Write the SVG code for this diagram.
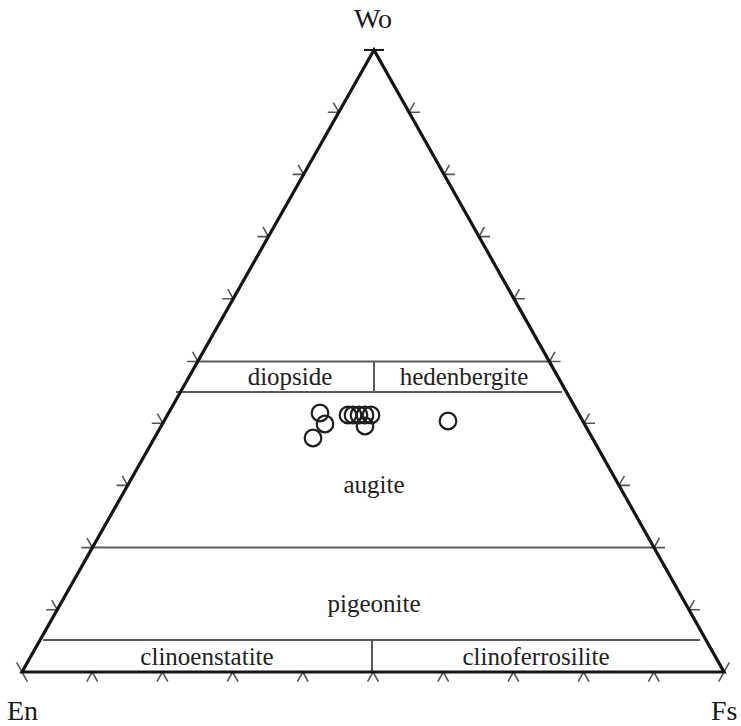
<svg xmlns="http://www.w3.org/2000/svg" xmlns:xlink="http://www.w3.org/1999/xlink" width="741" height="726" viewBox="0 0 741 726">
<style>
.edge{fill:none;stroke:#151515;stroke-width:3.2;stroke-linejoin:miter}
.field{fill:none;stroke:#5a5a5a;stroke-width:2}
.tick{fill:none;stroke:#555;stroke-width:1.6}
.lbl{font-family:"Liberation Serif","Times New Roman",serif;font-size:25px;fill:#222;text-anchor:middle}
.apex{font-family:"Liberation Serif","Times New Roman",serif;font-size:28px;fill:#1a1a1a}
.pt{fill:none;stroke:#1e1e1e;stroke-width:2.2}
</style>
<defs>
<path id="tl" d="M-11,0 L0,0 L-5.4,-9.6"/>
<path id="tr" d="M11,0 L0,0 L5.4,-9.6"/>
<path id="tb" d="M-5.4,9.6 L0,0 L5.4,9.6"/>
</defs>
<rect width="741" height="726" fill="#fff"/>
<g id="fields">
<line class="field" x1="198" y1="361.5" x2="549.5" y2="361.5"/>
<line class="field" x1="176" y1="392" x2="562" y2="392"/>
<line class="field" x1="374" y1="361.5" x2="374" y2="392"/>
<line class="field" x1="92.4" y1="547.6" x2="654" y2="547.6"/>
<line class="field" x1="43" y1="640" x2="700" y2="640"/>
<line class="field" x1="372" y1="640" x2="372" y2="672"/>
</g>
<g id="ticks" class="tick">
<use xlink:href="#tl" x="57.2" y="609.8"/>
<use xlink:href="#tl" x="92.4" y="547.6"/>
<use xlink:href="#tl" x="127.6" y="485.4"/>
<use xlink:href="#tl" x="162.8" y="423.2"/>
<use xlink:href="#tl" x="198" y="361.5"/>
<use xlink:href="#tl" x="233.2" y="298.8"/>
<use xlink:href="#tl" x="268.4" y="236.6"/>
<use xlink:href="#tl" x="303.6" y="174.4"/>
<use xlink:href="#tl" x="338.8" y="112.2"/>
<use xlink:href="#tr" x="689" y="609.8"/>
<use xlink:href="#tr" x="654" y="547.6"/>
<use xlink:href="#tr" x="619" y="485.4"/>
<use xlink:href="#tr" x="584" y="423.2"/>
<use xlink:href="#tr" x="549.5" y="361.5"/>
<use xlink:href="#tr" x="514" y="298.8"/>
<use xlink:href="#tr" x="479" y="236.6"/>
<use xlink:href="#tr" x="444" y="174.4"/>
<use xlink:href="#tr" x="409" y="112.2"/>
<use xlink:href="#tb" x="92.2" y="672"/>
<use xlink:href="#tb" x="162.4" y="672"/>
<use xlink:href="#tb" x="232.6" y="672"/>
<use xlink:href="#tb" x="302.8" y="672"/>
<use xlink:href="#tb" x="373" y="672"/>
<use xlink:href="#tb" x="443.2" y="672"/>
<use xlink:href="#tb" x="513.4" y="672"/>
<use xlink:href="#tb" x="583.6" y="672"/>
<use xlink:href="#tb" x="653.8" y="672"/>
<line x1="364" y1="50" x2="384" y2="50" stroke="#1a1a1a" stroke-width="2"/>
<line x1="16.6" y1="662.4" x2="27.4" y2="681.6"/>
<line x1="729.4" y1="662.4" x2="718.6" y2="681.6"/>
</g>
<g id="triangle">
<path class="edge" d="M374,50 L22,672 L724,672 Z"/>
</g>
<g id="data">
<circle class="pt" cx="320" cy="413" r="8.3"/>
<circle class="pt" cx="325" cy="424" r="8.3"/>
<circle class="pt" cx="313" cy="438" r="8.3"/>
<circle class="pt" cx="348" cy="415" r="8.3"/>
<circle class="pt" cx="353" cy="415" r="8.3"/>
<circle class="pt" cx="359" cy="415" r="8.3"/>
<circle class="pt" cx="365" cy="415" r="8.3"/>
<circle class="pt" cx="371" cy="415" r="8.3"/>
<circle class="pt" cx="365" cy="426" r="8.3"/>
<circle class="pt" cx="448" cy="421" r="8.3"/>
</g>
<g id="labels">
<text class="apex" x="373" y="28" text-anchor="middle" font-size="30">Wo</text>
<text class="apex" x="7" y="720">En</text>
<text class="apex" x="711" y="720">Fs</text>
<text class="lbl" x="290" y="385">diopside</text>
<text class="lbl" x="464" y="385">hedenbergite</text>
<text class="lbl" x="374" y="493">augite</text>
<text class="lbl" x="374" y="612">pigeonite</text>
<text class="lbl" x="207" y="665">clinoenstatite</text>
<text class="lbl" x="536" y="665">clinoferrosilite</text>
</g>
</svg>
